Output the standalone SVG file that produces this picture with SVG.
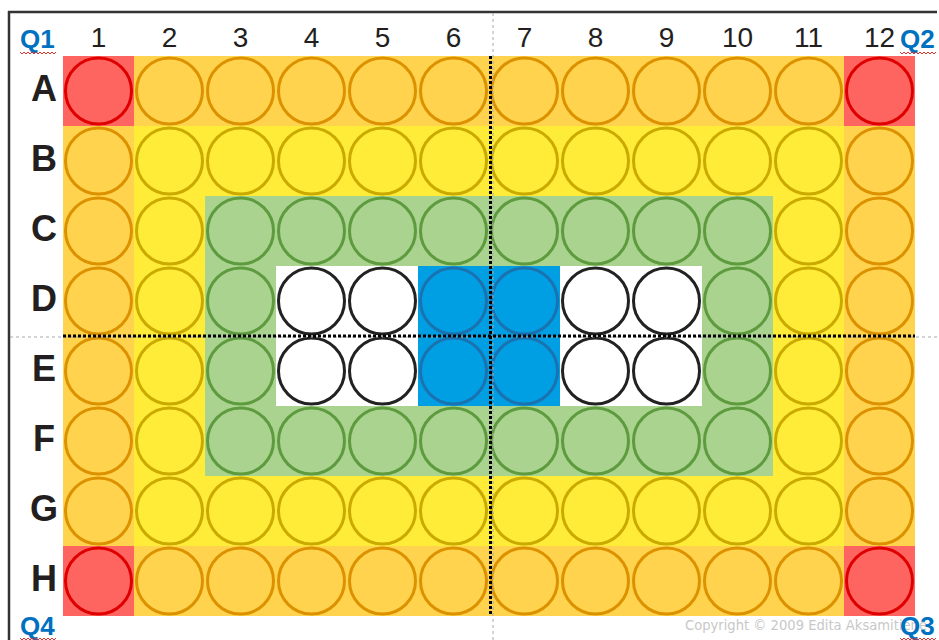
<svg xmlns="http://www.w3.org/2000/svg" width="939" height="640" viewBox="0 0 939 640">
<style>
.w circle{stroke-width:3}
.red{fill:#FF6560;stroke:#DE0000}
.ora{fill:#FFD34E;stroke:#DC9200}
.yel{fill:#FFEC38;stroke:#CBAA00}
.grn{fill:#A9D38F;stroke:#5E9A3E}
.blu{fill:#009FE4;stroke:#1A72B0}
.wht{fill:#FFFFFF;stroke:#222222}
.col{font-family:"Liberation Sans",Arial,sans-serif;font-size:28px;fill:#231F20;text-anchor:middle}
.row{font-family:"Liberation Sans",Arial,sans-serif;font-size:36px;font-weight:bold;fill:#231F20;text-anchor:middle}
.q{font-family:"Liberation Sans",Arial,sans-serif;font-size:26px;font-weight:bold;fill:#0070C0}
.sq{fill:none;stroke:#E03030;stroke-width:1}
</style>
<rect width="939" height="640" fill="#FFFFFF"/>
<g id="frame">
<line x1="8" y1="12" x2="937" y2="12" stroke="#333" stroke-width="2.5"/>
<line x1="9" y1="11" x2="9" y2="640" stroke="#333" stroke-width="2.5"/>
</g>
<g id="backgrounds">
<rect x="63" y="56" width="852" height="560" fill="#FFD34E"/>
<rect x="63" y="56" width="71" height="70" fill="#FF6560"/>
<rect x="844" y="56" width="71" height="70" fill="#FF6560"/>
<rect x="63" y="546" width="71" height="70" fill="#FF6560"/>
<rect x="844" y="546" width="71" height="70" fill="#FF6560"/>
<rect x="134" y="126" width="710" height="420" fill="#FFEC38"/>
<rect x="205" y="196" width="568" height="280" fill="#A9D38F"/>
<rect x="276" y="266" width="426" height="140" fill="#FFFFFF"/>
<rect x="418" y="266" width="142" height="140" fill="#009FE4"/>
</g>
<g id="labels">
<text class="col" x="98.5" y="47">1</text>
<text class="col" x="169.5" y="47">2</text>
<text class="col" x="240.5" y="47">3</text>
<text class="col" x="311.5" y="47">4</text>
<text class="col" x="382.5" y="47">5</text>
<text class="col" x="453.5" y="47">6</text>
<text class="col" x="524.5" y="47">7</text>
<text class="col" x="595.5" y="47">8</text>
<text class="col" x="666.5" y="47">9</text>
<text class="col" x="737.5" y="47">10</text>
<text class="col" x="808.5" y="47">11</text>
<text class="col" x="879.5" y="47">12</text>
<text class="row" x="44" y="101">A</text>
<text class="row" x="44" y="171">B</text>
<text class="row" x="44" y="241">C</text>
<text class="row" x="44" y="311">D</text>
<text class="row" x="44" y="381">E</text>
<text class="row" x="44" y="451">F</text>
<text class="row" x="44" y="521">G</text>
<text class="row" x="44" y="591">H</text>
</g>
<g id="wells" class="w">
<g id="A1"><circle class="red" cx="98.5" cy="91" r="33"/></g>
<g id="A2"><circle class="ora" cx="169.5" cy="91" r="33"/></g>
<g id="A3"><circle class="ora" cx="240.5" cy="91" r="33"/></g>
<g id="A4"><circle class="ora" cx="311.5" cy="91" r="33"/></g>
<g id="A5"><circle class="ora" cx="382.5" cy="91" r="33"/></g>
<g id="A6"><circle class="ora" cx="453.5" cy="91" r="33"/></g>
<g id="A7"><circle class="ora" cx="524.5" cy="91" r="33"/></g>
<g id="A8"><circle class="ora" cx="595.5" cy="91" r="33"/></g>
<g id="A9"><circle class="ora" cx="666.5" cy="91" r="33"/></g>
<g id="A10"><circle class="ora" cx="737.5" cy="91" r="33"/></g>
<g id="A11"><circle class="ora" cx="808.5" cy="91" r="33"/></g>
<g id="A12"><circle class="red" cx="879.5" cy="91" r="33"/></g>
<g id="B1"><circle class="ora" cx="98.5" cy="161" r="33"/></g>
<g id="B2"><circle class="yel" cx="169.5" cy="161" r="33"/></g>
<g id="B3"><circle class="yel" cx="240.5" cy="161" r="33"/></g>
<g id="B4"><circle class="yel" cx="311.5" cy="161" r="33"/></g>
<g id="B5"><circle class="yel" cx="382.5" cy="161" r="33"/></g>
<g id="B6"><circle class="yel" cx="453.5" cy="161" r="33"/></g>
<g id="B7"><circle class="yel" cx="524.5" cy="161" r="33"/></g>
<g id="B8"><circle class="yel" cx="595.5" cy="161" r="33"/></g>
<g id="B9"><circle class="yel" cx="666.5" cy="161" r="33"/></g>
<g id="B10"><circle class="yel" cx="737.5" cy="161" r="33"/></g>
<g id="B11"><circle class="yel" cx="808.5" cy="161" r="33"/></g>
<g id="B12"><circle class="ora" cx="879.5" cy="161" r="33"/></g>
<g id="C1"><circle class="ora" cx="98.5" cy="231" r="33"/></g>
<g id="C2"><circle class="yel" cx="169.5" cy="231" r="33"/></g>
<g id="C3"><circle class="grn" cx="240.5" cy="231" r="33"/></g>
<g id="C4"><circle class="grn" cx="311.5" cy="231" r="33"/></g>
<g id="C5"><circle class="grn" cx="382.5" cy="231" r="33"/></g>
<g id="C6"><circle class="grn" cx="453.5" cy="231" r="33"/></g>
<g id="C7"><circle class="grn" cx="524.5" cy="231" r="33"/></g>
<g id="C8"><circle class="grn" cx="595.5" cy="231" r="33"/></g>
<g id="C9"><circle class="grn" cx="666.5" cy="231" r="33"/></g>
<g id="C10"><circle class="grn" cx="737.5" cy="231" r="33"/></g>
<g id="C11"><circle class="yel" cx="808.5" cy="231" r="33"/></g>
<g id="C12"><circle class="ora" cx="879.5" cy="231" r="33"/></g>
<g id="D1"><circle class="ora" cx="98.5" cy="301" r="33"/></g>
<g id="D2"><circle class="yel" cx="169.5" cy="301" r="33"/></g>
<g id="D3"><circle class="grn" cx="240.5" cy="301" r="33"/></g>
<g id="D4"><circle class="wht" cx="311.5" cy="301" r="33"/></g>
<g id="D5"><circle class="wht" cx="382.5" cy="301" r="33"/></g>
<g id="D6"><circle class="blu" cx="453.5" cy="301" r="33"/></g>
<g id="D7"><circle class="blu" cx="524.5" cy="301" r="33"/></g>
<g id="D8"><circle class="wht" cx="595.5" cy="301" r="33"/></g>
<g id="D9"><circle class="wht" cx="666.5" cy="301" r="33"/></g>
<g id="D10"><circle class="grn" cx="737.5" cy="301" r="33"/></g>
<g id="D11"><circle class="yel" cx="808.5" cy="301" r="33"/></g>
<g id="D12"><circle class="ora" cx="879.5" cy="301" r="33"/></g>
<g id="E1"><circle class="ora" cx="98.5" cy="371" r="33"/></g>
<g id="E2"><circle class="yel" cx="169.5" cy="371" r="33"/></g>
<g id="E3"><circle class="grn" cx="240.5" cy="371" r="33"/></g>
<g id="E4"><circle class="wht" cx="311.5" cy="371" r="33"/></g>
<g id="E5"><circle class="wht" cx="382.5" cy="371" r="33"/></g>
<g id="E6"><circle class="blu" cx="453.5" cy="371" r="33"/></g>
<g id="E7"><circle class="blu" cx="524.5" cy="371" r="33"/></g>
<g id="E8"><circle class="wht" cx="595.5" cy="371" r="33"/></g>
<g id="E9"><circle class="wht" cx="666.5" cy="371" r="33"/></g>
<g id="E10"><circle class="grn" cx="737.5" cy="371" r="33"/></g>
<g id="E11"><circle class="yel" cx="808.5" cy="371" r="33"/></g>
<g id="E12"><circle class="ora" cx="879.5" cy="371" r="33"/></g>
<g id="F1"><circle class="ora" cx="98.5" cy="441" r="33"/></g>
<g id="F2"><circle class="yel" cx="169.5" cy="441" r="33"/></g>
<g id="F3"><circle class="grn" cx="240.5" cy="441" r="33"/></g>
<g id="F4"><circle class="grn" cx="311.5" cy="441" r="33"/></g>
<g id="F5"><circle class="grn" cx="382.5" cy="441" r="33"/></g>
<g id="F6"><circle class="grn" cx="453.5" cy="441" r="33"/></g>
<g id="F7"><circle class="grn" cx="524.5" cy="441" r="33"/></g>
<g id="F8"><circle class="grn" cx="595.5" cy="441" r="33"/></g>
<g id="F9"><circle class="grn" cx="666.5" cy="441" r="33"/></g>
<g id="F10"><circle class="grn" cx="737.5" cy="441" r="33"/></g>
<g id="F11"><circle class="yel" cx="808.5" cy="441" r="33"/></g>
<g id="F12"><circle class="ora" cx="879.5" cy="441" r="33"/></g>
<g id="G1"><circle class="ora" cx="98.5" cy="511" r="33"/></g>
<g id="G2"><circle class="yel" cx="169.5" cy="511" r="33"/></g>
<g id="G3"><circle class="yel" cx="240.5" cy="511" r="33"/></g>
<g id="G4"><circle class="yel" cx="311.5" cy="511" r="33"/></g>
<g id="G5"><circle class="yel" cx="382.5" cy="511" r="33"/></g>
<g id="G6"><circle class="yel" cx="453.5" cy="511" r="33"/></g>
<g id="G7"><circle class="yel" cx="524.5" cy="511" r="33"/></g>
<g id="G8"><circle class="yel" cx="595.5" cy="511" r="33"/></g>
<g id="G9"><circle class="yel" cx="666.5" cy="511" r="33"/></g>
<g id="G10"><circle class="yel" cx="737.5" cy="511" r="33"/></g>
<g id="G11"><circle class="yel" cx="808.5" cy="511" r="33"/></g>
<g id="G12"><circle class="ora" cx="879.5" cy="511" r="33"/></g>
<g id="H1"><circle class="red" cx="98.5" cy="581" r="33"/></g>
<g id="H2"><circle class="ora" cx="169.5" cy="581" r="33"/></g>
<g id="H3"><circle class="ora" cx="240.5" cy="581" r="33"/></g>
<g id="H4"><circle class="ora" cx="311.5" cy="581" r="33"/></g>
<g id="H5"><circle class="ora" cx="382.5" cy="581" r="33"/></g>
<g id="H6"><circle class="ora" cx="453.5" cy="581" r="33"/></g>
<g id="H7"><circle class="ora" cx="524.5" cy="581" r="33"/></g>
<g id="H8"><circle class="ora" cx="595.5" cy="581" r="33"/></g>
<g id="H9"><circle class="ora" cx="666.5" cy="581" r="33"/></g>
<g id="H10"><circle class="ora" cx="737.5" cy="581" r="33"/></g>
<g id="H11"><circle class="ora" cx="808.5" cy="581" r="33"/></g>
<g id="H12"><circle class="red" cx="879.5" cy="581" r="33"/></g>
</g>
<g id="dividers">
<line x1="10" y1="337" x2="939" y2="337" stroke="#AAAAAA" stroke-width="1" stroke-dasharray="3 3"/>
<line x1="493" y1="13" x2="493" y2="640" stroke="#AAAAAA" stroke-width="1" stroke-dasharray="3 3"/>
<line x1="63" y1="336" x2="915" y2="336" stroke="#000" stroke-width="3" stroke-dasharray="3 2"/>
<line x1="490.5" y1="56" x2="490.5" y2="616" stroke="#000" stroke-width="3" stroke-dasharray="3 2"/>
</g>
<text x="685" y="630" font-family="'DejaVu Sans',Verdana,sans-serif" font-size="14" fill="#C8C8C8" textLength="242" lengthAdjust="spacingAndGlyphs">Copyright © 2009 Edita Aksamitiene</text>
<g id="quadrants">
<text class="q" x="20" y="48">Q1</text>
<path class="sq" d="M20 52 l2 2 l2 -2 l2 2 l2 -2 l2 2 l2 -2 l2 2 l2 -2 l2 2 l2 -2 l2 2 l2 -2 l2 2 l2 -2 l2 2 l2 -2 l2 2 l2 -2"/>
<text class="q" x="900" y="48">Q2</text>
<path class="sq" d="M900 52 l2 2 l2 -2 l2 2 l2 -2 l2 2 l2 -2 l2 2 l2 -2 l2 2 l2 -2 l2 2 l2 -2 l2 2 l2 -2 l2 2 l2 -2 l2 2 l2 -2"/>
<text class="q" x="20" y="635">Q4</text>
<path class="sq" d="M20 638 l2 2 l2 -2 l2 2 l2 -2 l2 2 l2 -2 l2 2 l2 -2 l2 2 l2 -2 l2 2 l2 -2 l2 2 l2 -2 l2 2 l2 -2 l2 2 l2 -2"/>
<text class="q" x="900" y="635">Q3</text>
<path class="sq" d="M900 638 l2 2 l2 -2 l2 2 l2 -2 l2 2 l2 -2 l2 2 l2 -2 l2 2 l2 -2 l2 2 l2 -2 l2 2 l2 -2 l2 2 l2 -2 l2 2 l2 -2"/>
</g>
</svg>
